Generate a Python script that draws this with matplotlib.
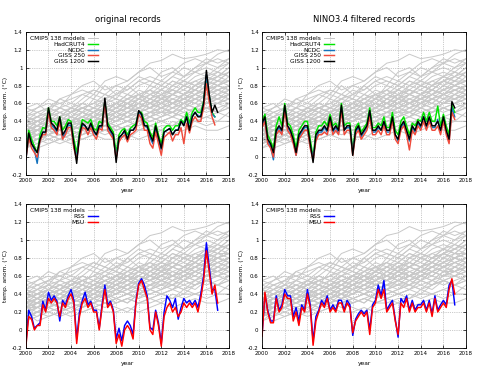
import numpy as np
import matplotlib
matplotlib.use("Agg")
import matplotlib.pyplot as plt
from matplotlib.ticker import FormatStrFormatter

# quarterly time axis 2000.0 .. 2017.0
t = 2000 + np.arange(69) / 4.0
years = np.arange(2000, 2019)

# CMIP5 model runs (a readable subset, yearly values)
run01 = [0.45, 0.55, 0.60, 0.55, 0.70, 0.80, 0.85, 0.75, 0.80, 0.85, 0.95, 1.00, 0.90, 0.95, 1.05, 1.10, 1.05, 1.15, 1.20]
run02 = [0.55, 0.60, 0.50, 0.65, 0.60, 0.70, 0.65, 0.80, 0.70, 0.75, 0.85, 0.80, 0.95, 1.00, 0.90, 1.00, 1.10, 1.05, 1.10]
run03 = [0.35, 0.45, 0.50, 0.45, 0.55, 0.50, 0.65, 0.60, 0.70, 0.80, 0.70, 0.75, 0.85, 0.80, 0.90, 0.95, 0.90, 1.00, 1.05]
run04 = [0.30, 0.35, 0.45, 0.40, 0.50, 0.55, 0.50, 0.60, 0.55, 0.65, 0.75, 0.70, 0.65, 0.80, 0.85, 0.80, 0.90, 0.95, 0.90]
run05 = [0.25, 0.30, 0.35, 0.45, 0.40, 0.45, 0.55, 0.50, 0.60, 0.55, 0.60, 0.70, 0.75, 0.70, 0.80, 0.75, 0.85, 0.80, 0.90]
run06 = [0.40, 0.35, 0.40, 0.50, 0.45, 0.40, 0.50, 0.55, 0.50, 0.60, 0.65, 0.60, 0.70, 0.65, 0.70, 0.80, 0.75, 0.85, 0.80]
run07 = [0.20, 0.30, 0.25, 0.35, 0.40, 0.35, 0.45, 0.40, 0.50, 0.45, 0.55, 0.60, 0.55, 0.65, 0.60, 0.70, 0.75, 0.70, 0.80]
run08 = [0.30, 0.25, 0.30, 0.35, 0.30, 0.40, 0.35, 0.45, 0.50, 0.45, 0.50, 0.55, 0.50, 0.60, 0.65, 0.60, 0.70, 0.65, 0.75]
run09 = [0.15, 0.20, 0.30, 0.25, 0.30, 0.35, 0.40, 0.35, 0.40, 0.50, 0.45, 0.50, 0.60, 0.55, 0.60, 0.65, 0.60, 0.70, 0.65]
run10 = [0.35, 0.30, 0.35, 0.30, 0.40, 0.45, 0.40, 0.50, 0.45, 0.50, 0.55, 0.50, 0.55, 0.60, 0.55, 0.65, 0.70, 0.65, 0.70]
run11 = [0.25, 0.35, 0.30, 0.40, 0.35, 0.30, 0.40, 0.45, 0.40, 0.45, 0.40, 0.50, 0.45, 0.55, 0.50, 0.55, 0.60, 0.60, 0.65]
run12 = [0.10, 0.15, 0.20, 0.25, 0.20, 0.25, 0.30, 0.25, 0.30, 0.35, 0.30, 0.35, 0.40, 0.35, 0.45, 0.40, 0.45, 0.50, 0.45]
run13 = [0.20, 0.10, 0.15, 0.20, 0.15, 0.20, 0.25, 0.20, 0.20, 0.25, 0.20, 0.25, 0.30, 0.25, 0.30, 0.35, 0.30, 0.30, 0.35]
run14 = [0.45, 0.50, 0.45, 0.55, 0.60, 0.55, 0.60, 0.65, 0.60, 0.70, 0.65, 0.75, 0.70, 0.80, 0.75, 0.85, 0.90, 0.85, 0.95]
run15 = [0.30, 0.40, 0.35, 0.30, 0.35, 0.45, 0.50, 0.45, 0.55, 0.60, 0.55, 0.65, 0.60, 0.55, 0.65, 0.70, 0.75, 0.80, 0.75]
run16 = [0.25, 0.20, 0.25, 0.30, 0.35, 0.30, 0.35, 0.30, 0.35, 0.40, 0.45, 0.40, 0.45, 0.50, 0.45, 0.55, 0.50, 0.55, 0.60]
run17 = [0.40, 0.45, 0.55, 0.50, 0.45, 0.55, 0.60, 0.70, 0.65, 0.60, 0.70, 0.65, 0.75, 0.85, 0.80, 0.75, 0.85, 0.90, 1.00]
run18 = [0.20, 0.25, 0.20, 0.15, 0.20, 0.30, 0.25, 0.30, 0.25, 0.20, 0.30, 0.35, 0.30, 0.40, 0.35, 0.40, 0.45, 0.40, 0.50]
run19 = [0.35, 0.30, 0.40, 0.45, 0.50, 0.45, 0.50, 0.45, 0.55, 0.50, 0.60, 0.55, 0.65, 0.60, 0.70, 0.65, 0.70, 0.75, 0.80]
run20 = [0.30, 0.35, 0.30, 0.35, 0.30, 0.35, 0.30, 0.40, 0.35, 0.40, 0.35, 0.45, 0.40, 0.45, 0.50, 0.45, 0.55, 0.50, 0.55]
run21 = [0.15, 0.20, 0.15, 0.20, 0.25, 0.20, 0.25, 0.30, 0.35, 0.30, 0.40, 0.35, 0.40, 0.45, 0.40, 0.50, 0.55, 0.50, 0.55]
run22 = [0.50, 0.45, 0.50, 0.55, 0.50, 0.60, 0.55, 0.65, 0.70, 0.65, 0.60, 0.70, 0.80, 0.75, 0.70, 0.80, 0.85, 0.80, 0.85]
run23 = [0.30, 0.30, 0.25, 0.30, 0.35, 0.40, 0.35, 0.40, 0.45, 0.40, 0.50, 0.45, 0.50, 0.45, 0.55, 0.60, 0.55, 0.60, 0.65]
run24 = [0.20, 0.30, 0.35, 0.30, 0.25, 0.30, 0.35, 0.40, 0.30, 0.35, 0.40, 0.45, 0.50, 0.50, 0.55, 0.50, 0.60, 0.65, 0.60]
run25 = [0.40, 0.35, 0.30, 0.35, 0.40, 0.50, 0.45, 0.50, 0.55, 0.60, 0.50, 0.55, 0.60, 0.70, 0.65, 0.70, 0.65, 0.75, 0.70]
run26 = [0.25, 0.25, 0.30, 0.25, 0.30, 0.25, 0.30, 0.35, 0.30, 0.35, 0.30, 0.30, 0.35, 0.35, 0.40, 0.40, 0.35, 0.40, 0.40]
run27 = [0.35, 0.40, 0.45, 0.40, 0.45, 0.40, 0.45, 0.55, 0.60, 0.55, 0.65, 0.60, 0.65, 0.70, 0.75, 0.70, 0.80, 0.85, 0.85]
run28 = [0.15, 0.25, 0.30, 0.35, 0.30, 0.35, 0.30, 0.35, 0.40, 0.45, 0.50, 0.45, 0.55, 0.50, 0.60, 0.55, 0.65, 0.60, 0.70]
run29 = [0.30, 0.35, 0.40, 0.35, 0.40, 0.45, 0.40, 0.45, 0.50, 0.55, 0.50, 0.60, 0.55, 0.60, 0.65, 0.60, 0.70, 0.75, 0.70]
run30 = [0.45, 0.40, 0.50, 0.45, 0.55, 0.60, 0.70, 0.65, 0.75, 0.70, 0.80, 0.85, 0.80, 0.90, 0.85, 0.95, 1.00, 0.95, 1.05]
run31 = [0.40, 0.50, 0.55, 0.65, 0.70, 0.75, 0.70, 0.85, 0.90, 0.85, 0.95, 1.05, 1.08, 1.15, 1.10, 1.12, 1.15, 1.20, 1.18]
run32 = [0.50, 0.55, 0.65, 0.60, 0.55, 0.65, 0.75, 0.70, 0.65, 0.80, 0.90, 0.85, 0.80, 0.90, 1.00, 0.95, 1.05, 1.00, 1.10]
run33 = [0.30, 0.40, 0.45, 0.55, 0.50, 0.60, 0.55, 0.50, 0.60, 0.70, 0.65, 0.80, 0.75, 0.85, 0.80, 0.90, 0.95, 0.90, 1.00]
run34 = [0.25, 0.30, 0.40, 0.35, 0.45, 0.50, 0.45, 0.55, 0.60, 0.55, 0.65, 0.60, 0.70, 0.75, 0.70, 0.80, 0.85, 0.90, 0.85]
run35 = [0.35, 0.40, 0.35, 0.45, 0.50, 0.55, 0.60, 0.55, 0.50, 0.60, 0.55, 0.65, 0.70, 0.60, 0.70, 0.75, 0.70, 0.80, 0.85]
run36 = [0.20, 0.25, 0.35, 0.40, 0.35, 0.40, 0.45, 0.50, 0.45, 0.55, 0.60, 0.55, 0.60, 0.70, 0.65, 0.75, 0.70, 0.75, 0.80]
run37 = [0.40, 0.45, 0.40, 0.45, 0.55, 0.50, 0.55, 0.60, 0.65, 0.60, 0.70, 0.75, 0.65, 0.70, 0.80, 0.85, 0.80, 0.90, 0.95]
run38 = [0.30, 0.25, 0.35, 0.30, 0.40, 0.35, 0.40, 0.50, 0.45, 0.50, 0.60, 0.55, 0.65, 0.60, 0.65, 0.70, 0.80, 0.75, 0.80]
run39 = [0.25, 0.35, 0.30, 0.35, 0.45, 0.40, 0.50, 0.45, 0.50, 0.55, 0.50, 0.55, 0.65, 0.60, 0.70, 0.65, 0.75, 0.80, 0.75]
run40 = [0.35, 0.30, 0.40, 0.35, 0.40, 0.50, 0.45, 0.55, 0.50, 0.45, 0.55, 0.65, 0.60, 0.70, 0.65, 0.75, 0.70, 0.80, 0.75]
run41 = [0.15, 0.20, 0.25, 0.30, 0.35, 0.30, 0.40, 0.35, 0.45, 0.40, 0.45, 0.50, 0.55, 0.50, 0.60, 0.65, 0.60, 0.65, 0.70]
run42 = [0.45, 0.40, 0.45, 0.40, 0.50, 0.55, 0.50, 0.60, 0.55, 0.65, 0.70, 0.65, 0.75, 0.70, 0.80, 0.75, 0.85, 0.95, 0.90]
run43 = [0.30, 0.35, 0.40, 0.45, 0.40, 0.35, 0.45, 0.40, 0.50, 0.55, 0.60, 0.55, 0.60, 0.65, 0.60, 0.70, 0.65, 0.70, 0.75]
run44 = [0.20, 0.15, 0.25, 0.20, 0.30, 0.25, 0.35, 0.30, 0.35, 0.30, 0.40, 0.45, 0.40, 0.45, 0.55, 0.50, 0.55, 0.60, 0.55]
run45 = [0.35, 0.40, 0.45, 0.50, 0.45, 0.55, 0.50, 0.55, 0.60, 0.65, 0.70, 0.60, 0.70, 0.75, 0.85, 0.80, 0.90, 0.85, 0.95]
run46 = [0.10, 0.20, 0.25, 0.20, 0.25, 0.30, 0.35, 0.40, 0.35, 0.40, 0.35, 0.40, 0.45, 0.50, 0.45, 0.50, 0.55, 0.50, 0.60]
run47 = [0.55, 0.50, 0.55, 0.60, 0.65, 0.70, 0.75, 0.70, 0.80, 0.75, 0.85, 0.90, 0.85, 0.95, 0.90, 1.00, 1.05, 1.10, 1.05]
run48 = [0.25, 0.30, 0.30, 0.35, 0.40, 0.40, 0.35, 0.45, 0.40, 0.50, 0.45, 0.50, 0.50, 0.55, 0.60, 0.55, 0.65, 0.65, 0.70]
run49 = [0.40, 0.35, 0.45, 0.50, 0.55, 0.50, 0.45, 0.50, 0.60, 0.55, 0.65, 0.70, 0.65, 0.75, 0.70, 0.75, 0.85, 0.80, 0.85]
run50 = [0.20, 0.25, 0.30, 0.25, 0.30, 0.40, 0.45, 0.40, 0.45, 0.50, 0.55, 0.60, 0.55, 0.60, 0.55, 0.65, 0.60, 0.70, 0.65]
cmip5_runs = [run01, run02, run03, run04, run05, run06, run07, run08, run09, run10,
              run11, run12, run13, run14, run15, run16, run17, run18, run19, run20,
              run21, run22, run23, run24, run25, run26, run27, run28, run29, run30,
              run31, run32, run33, run34, run35, run36, run37, run38, run39, run40,
              run41, run42, run43, run44, run45, run46, run47, run48, run49, run50]

nan = np.nan

# surface records, original
hadcrut_orig = [0.02, 0.30, 0.20, 0.12, 0.05, 0.25, 0.33, 0.32, 0.55, 0.40, 0.40, 0.35,
                0.45, 0.30, 0.35, 0.42, 0.40, 0.20, 0.05, 0.28, 0.42, 0.40, 0.38, 0.42,
                0.32, 0.30, 0.40, 0.38, 0.62, 0.38, 0.33, 0.28, 0.05, 0.25, 0.30, 0.32,
                0.25, 0.32, 0.35, 0.37, 0.50, 0.50, 0.40, 0.38, 0.28, 0.22, 0.38, 0.25,
                0.15, 0.32, 0.35, 0.35, 0.30, 0.35, 0.35, 0.42, 0.38, 0.50, 0.38, 0.50,
                0.55, 0.50, 0.50, 0.62, 0.88, 0.68, 0.50, 0.45, nan]
ncdc_orig = [-0.03, 0.25, 0.15, 0.08, -0.07, 0.20, 0.28, 0.27, 0.50, 0.36, 0.33, 0.28,
             0.42, 0.22, 0.28, 0.36, 0.35, 0.12, 0.00, 0.23, 0.36, 0.35, 0.30, 0.36,
             0.28, 0.25, 0.35, 0.33, 0.60, 0.33, 0.28, 0.22, 0.00, 0.20, 0.25, 0.28,
             0.20, 0.30, 0.30, 0.34, 0.50, 0.47, 0.36, 0.33, 0.22, 0.15, 0.33, 0.20,
             0.08, 0.28, 0.30, 0.32, 0.25, 0.30, 0.31, 0.40, 0.36, 0.45, 0.32, 0.46,
             0.50, 0.46, 0.46, 0.60, 0.92, 0.68, 0.48, 0.45, nan]
giss250_orig = [-0.02, 0.22, 0.10, 0.05, 0.00, 0.18, 0.25, 0.25, 0.50, 0.33, 0.30, 0.25,
                0.40, 0.20, 0.25, 0.33, 0.33, 0.10, -0.03, 0.20, 0.33, 0.32, 0.25, 0.33,
                0.25, 0.20, 0.32, 0.30, 0.60, 0.30, 0.25, 0.20, -0.02, 0.17, 0.22, 0.25,
                0.17, 0.25, 0.27, 0.30, 0.48, 0.43, 0.30, 0.30, 0.15, 0.10, 0.28, 0.15,
                0.02, 0.22, 0.25, 0.28, 0.18, 0.25, 0.25, 0.33, 0.15, 0.38, 0.27, 0.40,
                0.45, 0.40, 0.40, 0.55, 0.82, 0.62, 0.45, 0.36, nan]
giss1200_orig = [-0.02, 0.27, 0.15, 0.10, 0.05, 0.20, 0.28, 0.28, 0.55, 0.38, 0.35, 0.30,
                 0.45, 0.25, 0.30, 0.38, 0.38, 0.15, -0.07, 0.25, 0.38, 0.35, 0.30, 0.38,
                 0.30, 0.25, 0.35, 0.35, 0.66, 0.35, 0.30, 0.25, -0.06, 0.22, 0.25, 0.30,
                 0.20, 0.30, 0.30, 0.35, 0.52, 0.48, 0.35, 0.35, 0.25, 0.18, 0.35, 0.22,
                 0.10, 0.28, 0.30, 0.32, 0.25, 0.30, 0.30, 0.40, 0.35, 0.45, 0.30, 0.45,
                 0.50, 0.45, 0.45, 0.60, 0.97, 0.70, 0.50, 0.58, 0.50]

# surface records, NINO3.4 filtered
hadcrut_filt = [0.40, 0.48, 0.25, 0.18, 0.10, 0.35, 0.45, 0.35, 0.60, 0.38, 0.35, 0.25,
                0.10, 0.30, 0.35, 0.40, 0.40, 0.20, 0.00, 0.28, 0.35, 0.35, 0.40, 0.35,
                0.48, 0.35, 0.38, 0.32, 0.60, 0.35, 0.38, 0.38, 0.08, 0.33, 0.38, 0.28,
                0.33, 0.38, 0.55, 0.33, 0.33, 0.38, 0.35, 0.45, 0.33, 0.33, 0.50, 0.30,
                0.25, 0.40, 0.45, 0.35, 0.25, 0.38, 0.35, 0.42, 0.40, 0.50, 0.40, 0.50,
                0.40, 0.40, 0.57, 0.35, 0.48, 0.35, 0.25, 0.58, 0.50]
ncdc_filt = [0.35, 0.42, 0.18, 0.12, -0.03, 0.28, 0.33, 0.28, 0.55, 0.33, 0.28, 0.18,
             0.02, 0.22, 0.28, 0.33, 0.33, 0.12, 0.00, 0.20, 0.28, 0.28, 0.33, 0.28,
             0.43, 0.28, 0.33, 0.27, 0.55, 0.30, 0.33, 0.33, 0.05, 0.28, 0.33, 0.23,
             0.28, 0.33, 0.50, 0.28, 0.28, 0.33, 0.30, 0.38, 0.28, 0.28, 0.42, 0.25,
             0.18, 0.33, 0.38, 0.28, 0.18, 0.33, 0.28, 0.38, 0.33, 0.45, 0.33, 0.43,
             0.33, 0.33, 0.42, 0.28, 0.43, 0.28, 0.18, 0.55, 0.45]
giss250_filt = [0.33, 0.40, 0.15, 0.10, 0.00, 0.25, 0.30, 0.25, 0.52, 0.30, 0.25, 0.15,
                0.02, 0.20, 0.25, 0.30, 0.30, 0.10, -0.04, 0.18, 0.25, 0.25, 0.28, 0.25,
                0.40, 0.25, 0.30, 0.25, 0.52, 0.25, 0.30, 0.30, 0.02, 0.25, 0.30, 0.20,
                0.25, 0.30, 0.45, 0.25, 0.25, 0.30, 0.25, 0.35, 0.25, 0.25, 0.40, 0.20,
                0.15, 0.30, 0.35, 0.25, 0.08, 0.30, 0.25, 0.35, 0.30, 0.40, 0.30, 0.40,
                0.30, 0.30, 0.35, 0.25, 0.40, 0.25, 0.15, 0.50, 0.42]
giss1200_filt = [0.38, 0.45, 0.20, 0.15, 0.05, 0.30, 0.35, 0.30, 0.58, 0.35, 0.30, 0.20,
                 0.05, 0.25, 0.30, 0.35, 0.35, 0.15, -0.06, 0.25, 0.30, 0.30, 0.35, 0.30,
                 0.45, 0.30, 0.35, 0.30, 0.58, 0.30, 0.35, 0.35, 0.02, 0.30, 0.35, 0.25,
                 0.30, 0.35, 0.52, 0.30, 0.30, 0.35, 0.30, 0.40, 0.30, 0.30, 0.45, 0.25,
                 0.20, 0.35, 0.40, 0.30, 0.20, 0.35, 0.30, 0.40, 0.35, 0.45, 0.35, 0.45,
                 0.35, 0.35, 0.40, 0.30, 0.45, 0.30, 0.20, 0.62, 0.55]

# satellite records, original
rss_orig = [-0.15, 0.22, 0.15, 0.02, 0.05, 0.08, 0.32, 0.22, 0.42, 0.33, 0.38, 0.32,
            0.10, 0.33, 0.28, 0.38, 0.45, 0.33, -0.10, 0.20, 0.33, 0.42, 0.28, 0.32,
            0.22, 0.22, 0.02, 0.28, 0.50, 0.28, 0.32, 0.22, -0.10, 0.02, -0.12, 0.05,
            0.10, 0.05, -0.05, 0.32, 0.52, 0.57, 0.50, 0.38, 0.03, 0.00, 0.22, 0.08,
            -0.15, 0.20, 0.38, 0.33, 0.25, 0.35, 0.12, 0.25, 0.35, 0.30, 0.33, 0.28,
            0.33, 0.25, 0.40, 0.60, 0.97, 0.70, 0.45, 0.45, 0.22]
msu_orig = [-0.18, 0.15, 0.12, 0.00, 0.05, 0.05, 0.28, 0.20, 0.35, 0.30, 0.35, 0.30,
            0.15, 0.30, 0.25, 0.35, 0.40, 0.30, -0.15, 0.15, 0.30, 0.35, 0.25, 0.30,
            0.20, 0.20, 0.00, 0.25, 0.45, 0.25, 0.30, 0.20, -0.15, -0.05, -0.18, 0.00,
            0.05, 0.00, -0.10, 0.30, 0.50, 0.55, 0.45, 0.35, 0.00, -0.05, 0.20, 0.05,
            -0.18, 0.15, 0.25, 0.30, 0.20, 0.25, 0.15, 0.20, 0.30, 0.25, 0.30, 0.25,
            0.30, 0.20, 0.35, 0.55, 0.88, 0.65, 0.40, 0.50, 0.30]

# satellite records, NINO3.4 filtered
rss_filt = [-0.05, 0.40, 0.22, 0.10, 0.10, 0.38, 0.22, 0.28, 0.45, 0.38, 0.38, 0.15,
            0.25, 0.10, 0.28, 0.22, 0.45, 0.28, -0.12, 0.15, 0.22, 0.33, 0.28, 0.38,
            0.22, 0.28, 0.22, 0.33, 0.33, 0.22, 0.33, 0.28, -0.06, 0.12, 0.18, 0.22,
            0.18, 0.22, 0.00, 0.28, 0.33, 0.50, 0.38, 0.55, 0.22, 0.28, 0.33, 0.12,
            -0.08, 0.35, 0.30, 0.38, 0.22, 0.33, 0.22, 0.28, 0.28, 0.33, 0.22, 0.33,
            0.18, 0.38, 0.22, 0.28, 0.33, 0.28, 0.50, 0.55, 0.28]
msu_filt = [-0.07, 0.42, 0.20, 0.08, 0.08, 0.35, 0.20, 0.25, 0.40, 0.35, 0.35, 0.10,
            0.20, 0.05, 0.25, 0.20, 0.40, 0.25, -0.17, 0.10, 0.20, 0.30, 0.25, 0.35,
            0.20, 0.25, 0.20, 0.30, 0.30, 0.20, 0.30, 0.25, -0.03, 0.10, 0.15, 0.20,
            0.15, 0.20, -0.05, 0.25, 0.30, 0.45, 0.35, 0.45, 0.20, 0.25, 0.30, 0.10,
            -0.05, 0.30, 0.25, 0.35, 0.20, 0.30, 0.20, 0.25, 0.25, 0.30, 0.20, 0.30,
            0.15, 0.35, 0.20, 0.25, 0.30, 0.25, 0.45, 0.57, 0.40]

surface_names = ["HadCRUT4", "NCDC", "GISS 250", "GISS 1200"]
surface_colors = ["#00e400", "#1573bd", "#ef4b3c", "#000000"]
sat_names = ["RSS", "MSU"]
sat_colors = ["#0000ff", "#ff0000"]

plt.rcParams["font.family"] = "DejaVu Sans"
fig = plt.figure(figsize=(4.8, 3.7), dpi=100)


def draw_panel(rect, series, names, colors, title=None):
    ax = fig.add_axes(rect)
    for i, run in enumerate(cmip5_runs):
        ax.plot(years, run, color="#c8c8c8", lw=0.7,
                label="CMIP5 138 models" if i == 0 else None)
    for vals, name, col in zip(series, names, colors):
        ax.plot(t, vals, color=col, lw=1.05, label=name)
    ax.set_xlim(2000, 2018)
    ax.set_ylim(-0.2, 1.4)
    ax.set_xticks(np.arange(2000, 2019, 2))
    ax.set_yticks(np.arange(-0.2, 1.41, 0.2))
    ax.yaxis.set_major_formatter(FormatStrFormatter("%g"))
    ax.tick_params(direction="in", top=True, right=True, length=2.5,
                   width=0.5, labelsize=4, pad=2.5)
    ax.grid(True, linestyle=":", color="#9a9a9a", lw=0.5)
    for s in ax.spines.values():
        s.set_linewidth(0.6)
    ax.set_xlabel("year", fontsize=4.3, labelpad=3)
    ax.set_ylabel("temp. anom. (\u00b0C)", fontsize=4.3, labelpad=3)
    if title:
        ax.set_title(title, fontsize=6, pad=7)
    leg = ax.legend(loc="upper left", frameon=False, markerfirst=False,
                    fontsize=4.2, handlelength=1.7, labelspacing=0.12,
                    handletextpad=0.5, borderaxespad=0.3)
    # right-align the key entries like gnuplot does
    for col in leg._legend_handle_box.get_children():
        col.align = "right"
    return ax


draw_panel([0.054, 0.527, 0.423, 0.387],
           [hadcrut_orig, ncdc_orig, giss250_orig, giss1200_orig],
           surface_names, surface_colors, "original records")
draw_panel([0.546, 0.527, 0.425, 0.387],
           [hadcrut_filt, ncdc_filt, giss250_filt, giss1200_filt],
           surface_names, surface_colors, "NINO3.4 filtered records")
draw_panel([0.054, 0.0595, 0.423, 0.389], [rss_orig, msu_orig],
           sat_names, sat_colors)
draw_panel([0.546, 0.0595, 0.425, 0.389], [rss_filt, msu_filt],
           sat_names, sat_colors)

fig.savefig("out.png", dpi=100)
